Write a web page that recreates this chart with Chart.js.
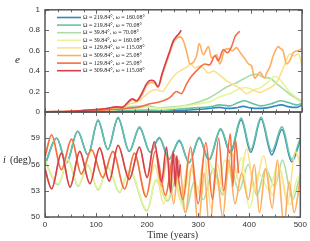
<!DOCTYPE html>
<html>
<head>
<meta charset="utf-8">
<script src="https://cdn.jsdelivr.net/npm/chart.js@4.4.0/dist/chart.umd.min.js"></script>
<style>
  html, body { margin: 0; padding: 0; background: #fff; }
  #wrap { position: relative; width: 310px; height: 241px; }
  #wrap canvas { position: absolute; left: 0; top: 0; }
</style>
</head>
<body>
<div id="wrap">
  <canvas id="eChart" width="310" height="241"></canvas>
  <canvas id="iChart" width="310" height="241"></canvas>
</div>
<script>
// legend labels + colours, series order 1..8
const labels = [
  "Ω = 219.84°, ω = 160.08°",
  "Ω = 219.84°, ω = 70.08°",
  "Ω = 39.84°, ω = 70.08°",
  "Ω = 39.84°, ω = 160.08°",
  "Ω = 129.84°, ω = 115.08°",
  "Ω = 309.84°, ω = 25.08°",
  "Ω = 129.84°, ω = 25.08°",
  "Ω = 309.84°, ω = 115.08°",
];
const colors = ["#3288bd", "#66c2a5", "#abdda4", "#e6f598", "#fee08b", "#fdae61", "#f46d43", "#d53e4f"];

const timeTicks = [0, 100, 200, 300, 400, 500];
const eTicks = [0, 0.2, 0.4, 0.6, 0.8, 1];
const iTicks = [50, 53, 56, 59];

// eccentricity
const blueET = [0, 100, 200, 250, 280, 310, 340, 355, 370, 386, 400, 415, 430, 445, 460, 475, 490, 500];
const blueE = [0.001, 0.002, 0.008, 0.015, 0.02, 0.03, 0.045, 0.035, 0.04, 0.055, 0.04, 0.035, 0.04, 0.055, 0.07, 0.05, 0.045, 0.07];
const tealET = [0, 100, 150, 200, 230, 260, 290, 320, 340, 360, 375, 388, 405, 420, 440, 458, 475, 490, 500];
const tealE = [0.001, 0.004, 0.015, 0.02, 0.015, 0.03, 0.04, 0.05, 0.07, 0.06, 0.09, 0.11, 0.08, 0.06, 0.08, 0.11, 0.09, 0.07, 0.085];
const greenET = [0, 100, 150, 175, 200, 220, 250, 280, 300, 320, 340, 355, 370, 385, 400, 412, 425, 438, 450, 465, 480, 500];
const greenE = [0.002, 0.01, 0.04, 0.055, 0.06, 0.04, 0.05, 0.07, 0.1, 0.14, 0.2, 0.25, 0.28, 0.32, 0.36, 0.37, 0.34, 0.33, 0.28, 0.22, 0.16, 0.1];
const limeET = [0, 100, 150, 175, 200, 225, 250, 275, 300, 320, 340, 360, 375, 390, 405, 420, 435, 448, 460, 475, 490, 500];
const limeE = [0.002, 0.008, 0.03, 0.04, 0.045, 0.035, 0.04, 0.06, 0.08, 0.1, 0.15, 0.18, 0.22, 0.24, 0.22, 0.24, 0.3, 0.35, 0.3, 0.2, 0.14, 0.11];
const yellowET = [0, 50, 100, 130, 150, 165, 180, 190, 205, 215, 228, 240, 252, 265, 276, 283, 292, 302, 310, 318, 328, 340, 352, 365, 380, 392, 405, 418, 431, 445, 455, 465, 477, 485, 493, 500];
const yellowE = [0.002, 0.005, 0.02, 0.03, 0.05, 0.08, 0.1, 0.14, 0.2, 0.22, 0.2, 0.28, 0.36, 0.41, 0.44, 0.47, 0.43, 0.45, 0.42, 0.38, 0.4, 0.36, 0.31, 0.27, 0.23, 0.18, 0.21, 0.19, 0.22, 0.26, 0.33, 0.45, 0.57, 0.55, 0.57, 0.45];
const orangeET = [0, 50, 100, 120, 139, 150, 162, 170, 178, 188, 198, 206, 213, 220, 228, 236, 243, 250, 256, 263, 269, 276, 282, 289, 295, 300, 308, 318, 324, 334, 340, 350, 357, 365, 372, 380, 389, 396, 402, 408, 413, 418, 427, 431, 438, 444, 454, 458, 463, 470, 476, 483, 492, 500];
const orangeE = [0.003, 0.008, 0.025, 0.035, 0.048, 0.045, 0.09, 0.12, 0.105, 0.16, 0.26, 0.29, 0.28, 0.24, 0.36, 0.48, 0.58, 0.68, 0.72, 0.735, 0.7, 0.58, 0.47, 0.49, 0.55, 0.67, 0.56, 0.64, 0.53, 0.56, 0.47, 0.61, 0.62, 0.6, 0.63, 0.58, 0.52, 0.47, 0.45, 0.33, 0.36, 0.39, 0.33, 0.38, 0.45, 0.55, 0.64, 0.62, 0.6, 0.47, 0.5, 0.58, 0.6, 0.62];
const roET = [0, 50, 100, 130, 150, 170, 185, 204, 215, 230, 243, 256, 265, 276, 285, 298, 311, 320, 331, 337, 347, 355, 363, 370, 379];
const roE = [0.002, 0.005, 0.015, 0.025, 0.03, 0.04, 0.05, 0.08, 0.09, 0.11, 0.14, 0.2, 0.18, 0.28, 0.35, 0.42, 0.47, 0.46, 0.55, 0.5, 0.61, 0.58, 0.64, 0.74, 0.79];
const redET = [0, 50, 100, 120, 139, 150, 162, 170, 178, 188, 198, 206, 213, 220, 228, 236, 243, 250, 256, 260, 265];
const redE = [0.003, 0.008, 0.025, 0.035, 0.05, 0.045, 0.1, 0.13, 0.11, 0.18, 0.28, 0.31, 0.3, 0.25, 0.38, 0.5, 0.6, 0.7, 0.74, 0.76, 0.8];

// inclination (deg), bottom panel, mostly turning points
const tealIT = [0, 23, 42, 64, 84, 104, 123, 143, 165, 185, 206, 224, 243, 263, 282, 302, 321, 344, 363, 384, 403, 423, 444, 464, 483, 500];
const tealI = [56.0, 59.0, 56.2, 59.8, 57.1, 61.1, 57.7, 61.4, 57.5, 60.3, 57.4, 59.1, 56.6, 58.8, 56.2, 59.1, 56.6, 60.1, 57.5, 61.3, 57.7, 61.4, 57.5, 60.3, 56.6, 59.0];
const blueI = [56.0, 59.0, 56.2, 59.8, 57.1, 61.0, 57.7, 61.3, 57.5, 60.2, 57.4, 59.0, 56.6, 58.7, 56.2, 59.0, 56.5, 60.0, 57.3, 61.1, 57.4, 61.2, 57.1, 60.0, 56.3, 58.8];
const greenIT = [0, 26, 45, 65, 84, 104, 123, 146, 165, 200, 217, 240, 258, 275, 292, 310, 330, 348, 362, 380, 398, 415, 432, 450, 465, 485, 500];
const greenI = [56.4, 53.7, 56.5, 53.5, 55.9, 53.1, 55.7, 52.8, 55.3, 50.7, 54.2, 51.8, 54.5, 50.5, 54.0, 52.0, 55.5, 52.5, 55.8, 53.0, 56.0, 52.5, 55.5, 53.5, 56.5, 52.0, 55.0];
const limeIT = [0, 26, 45, 65, 84, 104, 123, 146, 165, 200, 217, 240, 255, 268, 285, 305, 320, 340, 352, 370, 385, 400, 418, 440, 455, 480, 495, 500];
const limeI = [56.5, 53.8, 56.6, 53.6, 56.0, 53.2, 55.8, 52.9, 55.4, 50.8, 54.3, 52.0, 55.0, 51.3, 55.5, 52.5, 56.5, 53.5, 56.5, 54.0, 56.8, 51.0, 55.0, 53.0, 56.0, 51.4, 54.5, 54.0];
const yellowIT = [0, 13, 32, 52, 71, 91, 113, 133, 156, 175, 198, 215, 232, 250, 265, 285, 298, 312, 325, 338, 350, 365, 380, 395, 410, 428, 445, 460, 475, 490, 500];
const yellowI = [56.8, 59.3, 55.5, 58.8, 55.0, 57.6, 54.6, 57.4, 53.3, 57.2, 52.5, 56.0, 51.5, 55.5, 52.0, 57.5, 52.5, 57.0, 51.0, 56.0, 52.5, 57.5, 54.0, 57.8, 53.0, 57.0, 52.5, 55.5, 51.5, 57.5, 56.0];
const orangeIT = [0, 13, 32, 49, 68, 88, 107, 126, 143, 165, 185, 200, 214, 228, 240, 252, 262, 275, 288, 300, 312, 322, 335, 348, 360, 372, 385, 398, 410, 420, 432, 445, 455, 468, 478, 488, 500];
const orangeI = [55.4, 53.3, 57.2, 53.5, 57.4, 53.9, 57.8, 54.2, 58.1, 54.4, 57.9, 54.6, 58.4, 53.5, 57.0, 51.5, 56.5, 50.5, 56.0, 49.0, 55.0, 48.5, 55.5, 50.0, 56.5, 51.5, 55.0, 52.0, 56.0, 50.5, 55.5, 51.0, 56.5, 49.0, 54.0, 50.5, 54.5];
const roIT = [0, 13, 32, 52, 71, 91, 113, 133, 156, 175, 198, 216, 236, 252, 270, 285, 300, 315, 328, 340, 350, 363, 368, 373, 379];
const roI = [56.9, 59.4, 55.4, 58.9, 54.9, 57.7, 54.5, 57.5, 53.2, 57.3, 52.3, 57.5, 52.5, 57.2, 52.0, 58.0, 51.5, 58.5, 52.0, 59.0, 53.0, 59.5, 53.5, 58.8, 55.0];
const redIT = [0, 13, 32, 49, 68, 88, 107, 126, 143, 165, 185, 200, 214, 228, 238, 246, 251, 255, 258, 262, 265];
const redI = [55.5, 53.2, 57.3, 53.4, 57.5, 53.8, 57.9, 54.1, 58.2, 54.3, 58.0, 54.5, 58.6, 54.0, 58.0, 52.8, 57.5, 53.5, 57.0, 54.5, 56.0];

const eSeries = [[blueET, blueE], [tealET, tealE], [greenET, greenE], [limeET, limeE],
                 [yellowET, yellowE], [orangeET, orangeE], [roET, roE], [redET, redE]];
const iSeries = [[tealIT, blueI], [tealIT, tealI], [greenIT, greenI], [limeIT, limeI],
                 [yellowIT, yellowI], [orangeIT, orangeI], [roIT, roI], [redIT, redI]];

const tickFont = { family: "'Liberation Sans', Arial, sans-serif", size: 8 };
const serif = "'Liberation Serif', 'DejaVu Serif', serif";

function toPoints(ts, vs) {
    const n = Math.min(ts.length, vs.length);
    const pts = [];
    for (let k = 0; k < n; k++) pts.push({ x: ts[k], y: vs[k] });
    return pts;
}

// later series sit on top, so hand them to Chart.js first
function makeDatasets(series) {
    return series.map(([ts, vs], k) => ({
        label: labels[k],
        data: toPoints(ts, vs),
        borderColor: colors[k],
        borderWidth: 1.6,
        pointRadius: 0,
        cubicInterpolationMode: "monotone",
    })).reverse();
}

// box round the plot with little ticks pointing inwards
const frameTicks = {
    id: "frameTicks",
    afterDatasetsDraw(chart, args, opts) {
        const { ctx, chartArea: a, scales } = chart;
        ctx.save();
        ctx.strokeStyle = "#666";
        ctx.lineWidth = 1;
        ctx.beginPath();
        for (let t = 0; t <= 500; t += 25) {
            const x = Math.round(scales.x.getPixelForValue(t)) + 0.5;
            const len = t % 100 === 0 ? 4 : 2.5;
            ctx.moveTo(x, a.bottom); ctx.lineTo(x, a.bottom - len);
            ctx.moveTo(x, a.top); ctx.lineTo(x, a.top + len);
        }
        opts.yTicks.forEach(v => {
            const y = Math.round(scales.y.getPixelForValue(v)) + 0.5;
            ctx.moveTo(a.left, y); ctx.lineTo(a.left + 4, y);
            ctx.moveTo(a.right, y); ctx.lineTo(a.right - 4, y);
        });
        ctx.stroke();
        ctx.strokeStyle = "#555";
        ctx.lineWidth = 1.5;
        ctx.strokeRect(a.left, a.top, a.right - a.left, a.bottom - a.top);
        ctx.restore();
    },
};

// axis captions and the legend box drawn as plain text
const sideText = {
    id: "sideText",
    afterDraw(chart, args, opts) {
        const ctx = chart.ctx;
        ctx.save();
        ctx.fillStyle = "#222";
        ctx.textBaseline = "middle";
        if (opts.which === "e") {
            ctx.font = "italic 11px " + serif;
            ctx.fillText("e", 15, 60);
            opts.legend.forEach((txt, k) => {
                const y = 17.5 + k * 7.6;
                ctx.strokeStyle = colors[k];
                ctx.lineWidth = 1.6;
                ctx.beginPath();
                ctx.moveTo(57, y); ctx.lineTo(81, y);
                ctx.stroke();
                ctx.font = "6px " + serif;
                ctx.fillText(txt, 83, y);
            });
        } else {
            ctx.font = "italic 10px " + serif;
            ctx.fillText("i", 3, 160);
            ctx.font = "10px " + serif;
            ctx.fillText("(deg)", 10, 160);
        }
        ctx.restore();
    },
};

new Chart(document.getElementById("eChart"), {
    type: "line",
    data: { datasets: makeDatasets(eSeries) },
    plugins: [frameTicks, sideText],
    options: {
        responsive: false,
        animation: false,
        layout: { padding: { left: 0, top: 5, right: 8, bottom: 129 } },
        plugins: {
            legend: { display: false },
            tooltip: { enabled: false },
            frameTicks: { yTicks: eTicks },
            sideText: { which: "e", legend: labels },
        },
        scales: {
            x: { type: "linear", min: 0, max: 500, display: false },
            y: {
                min: 0, max: 1,
                afterFit: s => { s.width = 45; },
                afterBuildTicks: s => { s.ticks = eTicks.map(v => ({ value: v })); },
                ticks: { font: tickFont, color: "#333", padding: 5, callback: v => String(v) },
                grid: { display: false, drawTicks: false },
                border: { display: false },
            },
        },
    },
});

new Chart(document.getElementById("iChart"), {
    type: "line",
    data: { datasets: makeDatasets(iSeries) },
    plugins: [frameTicks, sideText],
    options: {
        responsive: false,
        animation: false,
        layout: { padding: { left: 0, top: 112, right: 8, bottom: 0 } },
        plugins: {
            legend: { display: false },
            tooltip: { enabled: false },
            frameTicks: { yTicks: iTicks },
            sideText: { which: "i" },
        },
        scales: {
            x: {
                type: "linear", min: 0, max: 500,
                afterFit: s => { s.height = 24; },
                afterBuildTicks: s => { s.ticks = timeTicks.map(v => ({ value: v })); },
                ticks: { font: tickFont, color: "#333", padding: 3, maxRotation: 0 },
                grid: { display: false, drawTicks: false },
                border: { display: false },
                title: {
                    display: true, text: "Time (years)", color: "#333",
                    font: { family: serif, size: 10 }, padding: { top: 0, bottom: 0 },
                },
            },
            y: {
                min: 50, max: 62,
                afterFit: s => { s.width = 45; },
                afterBuildTicks: s => { s.ticks = iTicks.map(v => ({ value: v })); },
                ticks: { font: tickFont, color: "#333", padding: 5 },
                grid: { display: false, drawTicks: false },
                border: { display: false },
            },
        },
    },
});
</script>
</body>
</html>
